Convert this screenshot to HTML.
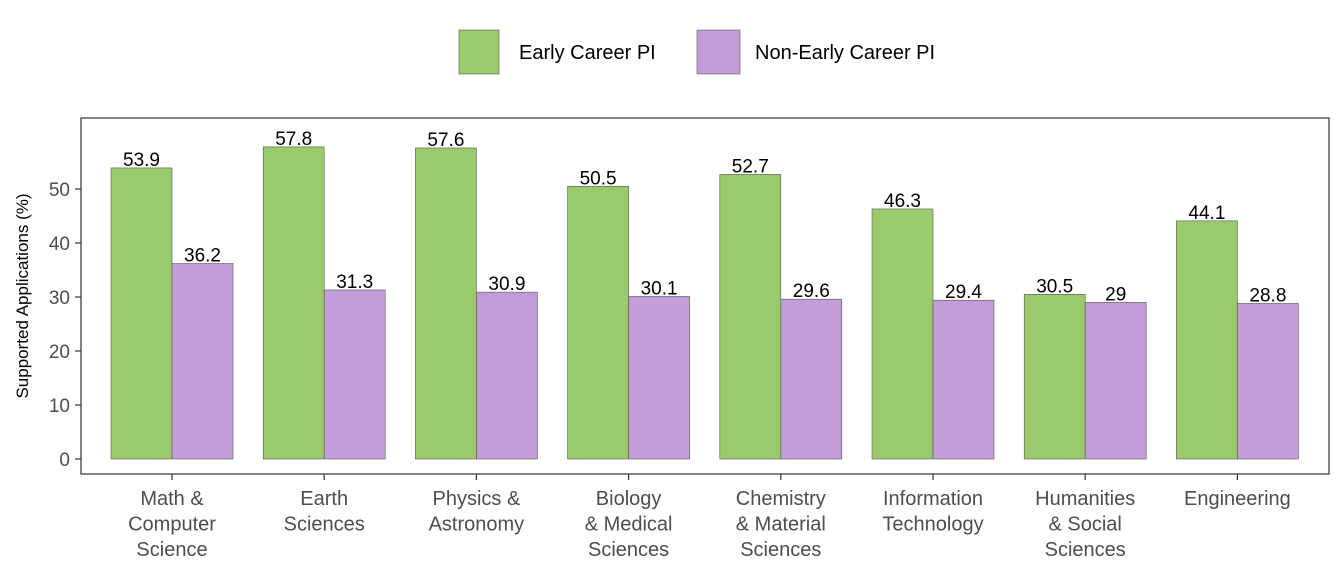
<!DOCTYPE html>
<html><head><meta charset="utf-8"><style>
body{margin:0;background:#fff;}
svg{font-family:"Liberation Sans",Arial,sans-serif;}
</style></head><body>
<svg id="chart" width="1344" height="576">
<rect x="0" y="0" width="1344" height="576" fill="#fff"/>
<g id="legend">
 <rect x="459" y="30" width="40" height="44" fill="#9bca6d" stroke="#555" stroke-width="0.6"/>
 <text x="519" y="59" font-size="20" fill="#000">Early Career PI</text>
 <rect x="697" y="30" width="43" height="44" fill="#c39dd8" stroke="#555" stroke-width="0.6"/>
 <text x="755" y="59" font-size="20" fill="#000">Non-Early Career PI</text>
</g>
<g id="marks"></g>
<rect x="81" y="118" width="1248" height="356" fill="none" stroke="#333" stroke-width="1.2"/>
<text transform="translate(28,296) rotate(-90)" text-anchor="middle" font-size="17" fill="#000">Supported Applications (%)</text>
</svg>
<script>
const categories=[["Math &","Computer","Science"],["Earth","Sciences"],["Physics &","Astronomy"],["Biology","& Medical","Sciences"],["Chemistry","& Material","Sciences"],["Information","Technology"],["Humanities","& Social","Sciences"],["Engineering"]];
const earlyValues=[53.9,57.8,57.6,50.5,52.7,46.3,30.5,44.1];
const nonEarlyValues=[36.2,31.3,30.9,30.1,29.6,29.4,29,28.8];
const yTicks=[0,10,20,30,40,50];
const NS="http://www.w3.org/2000/svg";
const svg=document.getElementById('chart');
const g=document.getElementById('marks');
const y=v=>459-5.4*v;
const xc=i=>172+i*152.2;
const bw=61;
function mk(t,a){const e=document.createElementNS(NS,t);for(const k in a)e.setAttribute(k,a[k]);return e;}
yTicks.forEach(t=>{
 const l=mk('line',{x1:75,x2:81,y1:y(t),y2:y(t),stroke:'#333','stroke-width':1.2});
 
 
 g.appendChild(l);
 const tx=mk('text',{x:70,y:y(t)+7,'text-anchor':'end','font-size':19,fill:'#4d4d4d'});
 tx.textContent=t;
 
 
 g.appendChild(tx);
});
categories.forEach((c,i)=>{
 const series=[[earlyValues[i],'#9bca6d',xc(i)-bw,'bar-early'],[nonEarlyValues[i],'#c39dd8',xc(i),'bar-non-early']];
 series.forEach(s=>{
  const r=mk('rect',{x:s[2],y:y(s[0]),width:bw,height:y(0)-y(s[0]),fill:s[1],stroke:'#555','stroke-width':0.6});
  
  
  g.appendChild(r);
  const t=mk('text',{x:s[2]+bw/2,y:y(s[0])-2,'text-anchor':'middle','font-size':19,fill:'#000'});
  t.textContent=s[0];
  
  
  g.appendChild(t);
 });
 const tk=mk('line',{x1:xc(i),x2:xc(i),y1:474,y2:480,stroke:'#333','stroke-width':1.2});
 
 
 g.appendChild(tk);
 c.forEach((ln,j)=>{
  const t=mk('text',{x:xc(i),y:505+j*25.5,'text-anchor':'middle','font-size':20,fill:'#4d4d4d'});
  t.textContent=ln;
  
  
  g.appendChild(t);
 });
});
</script>
</body></html>
